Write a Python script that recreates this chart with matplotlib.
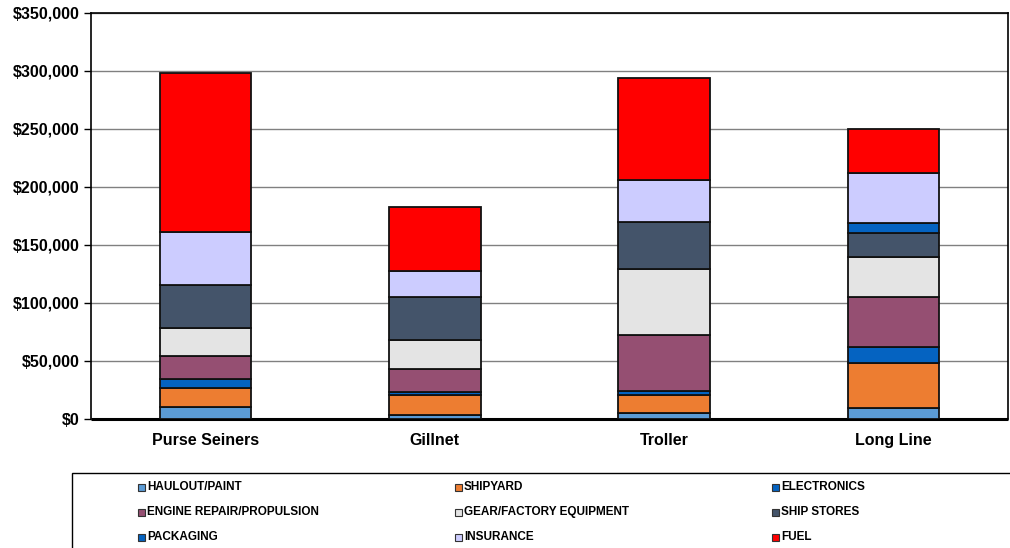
import matplotlib
matplotlib.use("Agg")
import matplotlib.pyplot as plt
from matplotlib.patches import Rectangle
from matplotlib.ticker import FuncFormatter, MultipleLocator

plt.rcParams['font.family'] = ['Liberation Sans', 'DejaVu Sans']

# Vessel classes and annual expenditure by category (USD)
vessels = ["Purse Seiners", "Gillnet", "Troller", "Long Line"]
categories = ["HAULOUT/PAINT", "SHIPYARD", "ELECTRONICS",
              "ENGINE REPAIR/PROPULSION", "GEAR/FACTORY EQUIPMENT", "SHIP STORES",
              "PACKAGING", "INSURANCE", "FUEL"]

haulout     = [10000,  3500,  5000,  9200]
shipyard    = [16500, 17000, 15800, 38800]
electronics = [ 8000,  3000,  3400, 14300]
engine      = [20000, 20000, 48300, 43200]
gear        = [24000, 24500, 57000, 34400]
ship_stores = [37000, 37000, 40000, 20700]
packaging   = [    0,     0,     0,  8600]
insurance   = [46000, 23000, 36500, 42600]
fuel        = [137000, 54500, 88000, 38200]

series = [haulout, shipyard, electronics, engine, gear,
          ship_stores, packaging, insurance, fuel]
colors = ["#5B9BD5", "#ED7D31", "#0563C1", "#954F72", "#E4E4E4",
          "#44546A", "#0563C1", "#CCCCFF", "#FF0000"]

fig = plt.figure(figsize=(10.10, 5.48), dpi=100)
ax = fig.add_axes([0.0901, 0.2354, 0.9079, 0.7409])

x = list(range(len(vessels)))
bottom = [0.0] * len(vessels)
for vals, col, name in zip(series, colors, categories):
    ax.bar(x, vals, width=0.4, bottom=bottom, color=col, edgecolor="#111111",
           linewidth=1.3, label=name, zorder=3)
    bottom = [b + v for b, v in zip(bottom, vals)]

ax.set_xlim(-0.5, len(vessels) - 0.5)
ax.set_ylim(0, 350000)
ax.yaxis.set_major_locator(MultipleLocator(50000))
ax.yaxis.set_major_formatter(FuncFormatter(lambda v, p: "${:,.0f}".format(v)))
ax.grid(axis="y", color="#808080", linewidth=1.0, zorder=0)
ax.set_axisbelow(True)

ax.set_xticks(x)
ax.set_xticklabels(vessels, fontsize=11.5, fontweight="bold")
ax.tick_params(axis="x", length=0, pad=10)
ax.tick_params(axis="y", length=5, width=1, direction="out", pad=3,
               labelsize=11.5)
for lbl in ax.get_yticklabels():
    lbl.set_fontweight("bold")

for side in ["left", "top", "right"]:
    ax.spines[side].set_color("black")
    ax.spines[side].set_linewidth(1.2)
ax.spines["bottom"].set_linewidth(2.2)
ax.spines["bottom"].set_color("black")
ax.spines["bottom"].set_capstyle("butt")

# Legend panel below the plot area
W, H = 1010.0, 548.0
fig.patches.append(Rectangle((72 / W, -0.1), 1.1, (548 - 473) / H + 0.1,
                             transform=fig.transFigure, facecolor="white",
                             edgecolor="black", linewidth=1.0, clip_on=False))
col_x = [138, 455, 772]
row_y = [487, 512, 537]
for i, (name, col) in enumerate(zip(categories, colors)):
    r, c = divmod(i, 3)
    mx, my = col_x[c], row_y[r]
    fig.patches.append(Rectangle((mx / W, (H - my - 3.5) / H), 7 / W, 7 / H,
                                 transform=fig.transFigure, facecolor=col,
                                 edgecolor="#333333", linewidth=0.8))
    fig.text((mx + 9) / W, (H - my) / H, name, fontsize=8.5, fontweight="bold",
             va="center", ha="left")

fig.savefig("out.png", dpi=100)
